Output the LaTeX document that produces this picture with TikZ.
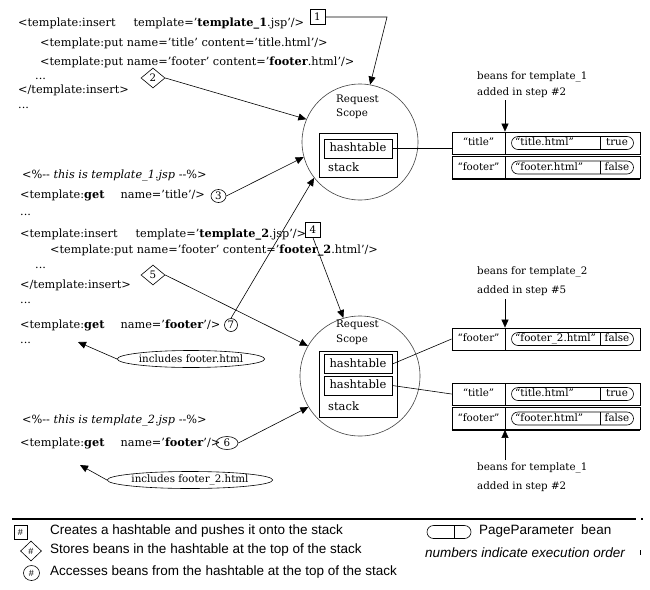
\documentclass[tikz,border=0pt]{standalone}
\usepackage{fontspec}
\setmainfont{DejaVu Serif}
\setsansfont{Liberation Sans}
\usetikzlibrary{arrows.meta,shapes.geometric}
\newcommand\cfont{\fontsize{11.3}{13}\selectfont}
\newcommand\smfont{\fontsize{10.3}{12}\selectfont}
\newcommand\hfont{\fontsize{11.5}{13}\selectfont}
\newcommand\lfont{\sffamily\fontsize{13.5}{15}\selectfont}
\newcommand\beanrow[5]{%
  \node[cell] (#1) at (546,#2) {};
  \draw[line width=1.3pt] (#1.south west) -- (#1.south east);
  \draw[line width=0.7pt] (505,#2) ++(0,-11) -- ++(0,22);
  \node[btxt] (#1k) at (478.5,#2) {#3};
  \node[pill, minimum width=122pt] (#1p) at (572.5,#2) {};
  \draw[line width=0.6pt] (600,#2) ++(0,-6.5) -- ++(0,13);
  \node[btxt, anchor=west] (#1v) at (515,#2) {#4};
  \node[btxt] (#1f) at (617,#2) {#5};
}
\begin{document}
\begin{tikzpicture}[x=1pt,y=-1pt,
  code/.style={font=\cfont, anchor=west, inner sep=0pt, text height=8.5pt, text depth=2.5pt},
  btxt/.style={font=\smfont, inner sep=0pt, text height=7.5pt, text depth=2pt},
  arr/.style={-{Triangle[length=8pt,width=7pt]}, line width=0.6pt},
  lin/.style={line width=0.6pt},
  numbox/.style={draw, rectangle, minimum width=15pt, minimum height=15pt, inner sep=0pt, font=\smfont, line width=0.6pt},
  numdia/.style={draw, diamond, minimum width=24pt, minimum height=20pt, inner sep=0pt, font=\smfont, line width=0.6pt},
  numcirc/.style={draw, ellipse, minimum width=15pt, minimum height=13pt, inner sep=0pt, font=\smfont, line width=0.6pt},
  scopecirc/.style={draw=black!75, circle, inner sep=0pt, line width=0.6pt},
  cell/.style={draw, rectangle, inner sep=0pt, line width=0.8pt, minimum width=188pt, minimum height=22pt},
  pill/.style={draw, rectangle, rounded corners=6.5pt, inner sep=0pt, minimum height=13pt, line width=0.6pt},
  hbox/.style={draw, rectangle, inner sep=0pt, line width=0.8pt, minimum width=68pt, minimum height=19pt, font=\hfont, text height=8.5pt, text depth=2.5pt},
  outbox/.style={draw, rectangle, inner sep=0pt, line width=0.9pt, minimum width=78pt},
  scopetxt/.style={font=\smfont, align=left, anchor=north west, inner sep=0pt},
  incl/.style={draw, ellipse, inner sep=0pt, font=\smfont, minimum height=17pt, line width=0.6pt},
  beans/.style={font=\smfont, anchor=west, inner sep=0pt},
  ltxt/.style={font=\lfont, anchor=west, inner sep=0pt},
  lsym/.style={inner sep=0pt, font=\sffamily\fontsize{9}{10}\selectfont, line width=0.6pt}
]
\useasboundingbox (0,0) rectangle (650,589);

% ---------- top code block ----------
\node[code] (l1) at (18,23) {<template:insert\hspace{18pt}template=’\textbf{template\_1}.jsp’/>};
\node[code] (l2) at (40,43) {<template:put name=’title’ content=’title.html’/>};
\node[code] (l3) at (40,62) {<template:put name=’footer’ content=’\textbf{footer}.html’/>};
\node[code] (l4) at (35,76) {...};
\node[code] (l5) at (18,90) {</template:insert>};
\node[code] (l6) at (18,105) {...};

\node[numbox] (n1) at (317.5,17) {1};
\node[numdia] (n2) at (153,78) {2};

% ---------- middle code block ----------
\node[code] (m1) at (22,175) {<\%-{}- \textit{this is template\_1.jsp} -{}-\%>};
\node[code] (m2) at (20,195) {<template:\textbf{get}\hspace{16pt}name=’title’/>};
\node[numcirc] (n3) at (218.5,196) {3};
\node[code] (m3) at (20,212) {...};
\node[code] (m4) at (20,234) {<template:insert\hspace{18pt}template=’\textbf{template\_2}.jsp’/>};
\node[numbox] (n4) at (313,230) {4};
\node[code] (m5) at (50,250) {<template:put name=’footer’ content=’\textbf{footer\_2}.html’/>};
\node[code] (m6) at (35,265) {...};
\node[numdia] (n5) at (153,275) {5};
\node[code] (m7) at (20,285) {</template:insert>};
\node[code] (m8) at (20,300) {...};
\node[code] (m9) at (20,325) {<template:\textbf{get}\hspace{16pt}name=’\textbf{footer}’/>};
\node[numcirc, minimum width=13pt] (n7) at (231,325) {7};
\node[code] (m10) at (20,340) {...};
\node[incl, minimum width=132pt] (e1) at (191,359) {includes footer.html};
\coordinate (t1) at (78,342);

% ---------- bottom code block ----------
\node[code] (b1) at (22,420) {<\%-{}- \textit{this is template\_2.jsp} -{}-\%>};
\node[code] (b2) at (20,443) {<template:\textbf{get}\hspace{16pt}name=’\textbf{footer}’/>};
\node[numcirc, minimum width=22pt] (n6) at (227,443) {6};
\node[incl, minimum width=136pt] (e2) at (190,480) {includes footer\_2.html};
\coordinate (t2) at (80,465);

% ---------- request scope 1 ----------
\node[scopecirc, minimum size=116pt] (c1) at (360,142) {};
\node[scopetxt] (s1) at (336,95) {Request\\[2pt]Scope};
\node[outbox, minimum height=44pt] (o1) at (358,155) {};
\node[hbox] (h1) at (358,148.5) {hashtable};
\node[font=\hfont, anchor=west, inner sep=0pt] (k1) at (328,167) {stack};

% ---------- request scope 2 ----------
\node[scopecirc, minimum size=120pt] (c2) at (360,376) {};
\node[scopetxt] (s2) at (336,320) {Request\\[3pt]Scope};
\node[outbox, minimum height=66pt] (o2) at (358,384) {};
\node[hbox] (h2) at (358,364) {hashtable};
\node[hbox] (h3) at (358,385.5) {hashtable};
\node[font=\hfont, anchor=west, inner sep=0pt] (k2) at (328,406) {stack};

% ---------- bean rows ----------
\beanrow{r1}{143}{“title”}{“title.html”}{true}
\beanrow{r2}{167.5}{“footer”}{“footer.html”}{false}
\beanrow{r3}{339}{“footer”}{“footer\_2.html”}{false}
\beanrow{r4}{394}{“title”}{“title.html”}{true}
\beanrow{r5}{418.5}{“footer”}{“footer.html”}{false}

\node[beans] (q1a) at (477,77) {beans for template\_1};
\node[beans] (q1b) at (477,93) {added in step \#2};
\node[beans] (q2a) at (477,272) {beans for template\_2};
\node[beans] (q2b) at (477,291) {added in step \#5};
\node[beans] (q3a) at (477,468) {beans for template\_1};
\node[beans] (q3b) at (477,487) {added in step \#2};
\coordinate (a1) at (505,100);
\coordinate (a2) at (505,299);
\coordinate (a3) at (505,460);

% ---------- connectors ----------
\coordinate (kk1) at (387,17);
\draw[arr] (n1.east) -- (kk1) -- (c1.80);
\draw[arr] (n2.east) -- (c1.157);
\draw[arr] (n3.east) -- (c1.195);
\draw[arr] (n7.north) -- (c1.218);
\draw[arr] (n4.south) -- (c2.106);
\draw[arr] (n5.east) -- (c2.150);
\draw[arr] (n6.east) -- (c2.211);
\draw[arr] (e1.west) -- (t1);
\draw[arr] (e2.west) -- (t2);
\draw[arr] (a1) -- (a1 |- r1.north);
\draw[arr] (a2) -- (a2 |- r3.north);
\draw[arr] (a3) -- (a3 |- r5.south);
\draw[lin] (h1.east) -- (h1.east -| r1.west);
\draw[lin] (h2.east) -- (r3.west);
\draw[lin] (h3.east) -- (r4.west);

% ---------- legend ----------
\draw[line width=1.3pt] (12,519) -- (636,519);
\draw[line width=1.3pt] (641,519) -- (643,519);
\node[lsym, draw, rectangle, minimum width=13pt, minimum height=14pt] (g1) at (20.5,532) {\#};
\node[ltxt] (g1t) at (50,531) {Creates a hashtable and pushes it onto the stack};
\node[lsym, draw, diamond, minimum width=21pt, minimum height=20pt] (g2) at (31,551) {\#};
\node[ltxt] (g2t) at (50,550) {Stores beans in the hashtable at the top of the stack};
\node[lsym, draw, ellipse, minimum width=16pt, minimum height=15pt] (g3) at (31.5,573) {\#};
\node[ltxt] (g3t) at (50,572) {Accesses beans from the hashtable at the top of the stack};
\node[pill, minimum width=44pt] (gp) at (449,532) {};
\draw[line width=0.6pt] (454,525.5) -- (454,538.5);
\node[ltxt] (gpt) at (479,531) {PageParameter\ \ bean};
\node[ltxt, font=\lfont\itshape] (gn) at (425,553) {numbers indicate execution order};
\draw[line width=0.6pt] (640,550) -- (640,555);
\end{tikzpicture}
\end{document}
